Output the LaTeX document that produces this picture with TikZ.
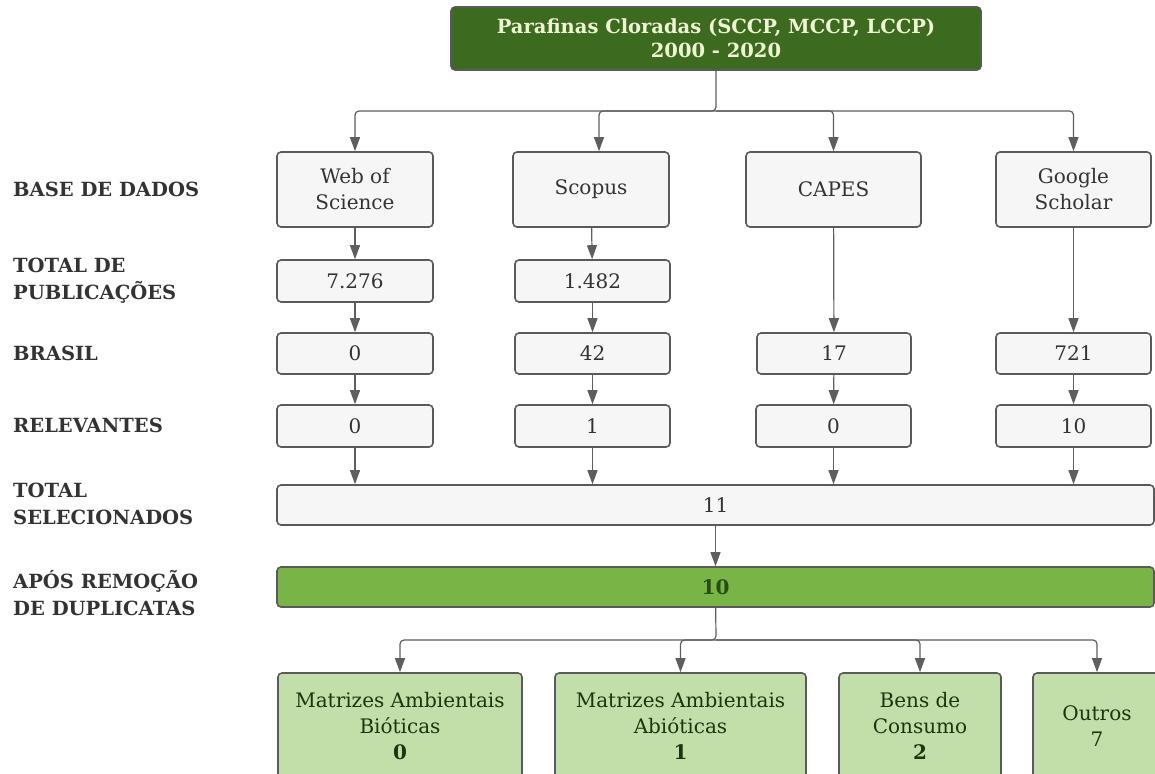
\documentclass[tikz,border=0pt]{standalone}
\usepackage{fontspec}
\setmainfont{DejaVu Serif}
\usetikzlibrary{arrows.meta}

\definecolor{boxfill}{HTML}{F6F6F6}
\definecolor{boxline}{HTML}{5A5A5A}
\definecolor{txtgray}{HTML}{333333}
\definecolor{linkgray}{HTML}{5E5E5E}
\definecolor{darkleaf}{HTML}{3C6A1F}
\definecolor{cream}{HTML}{EEF5D2}
\definecolor{midleaf}{HTML}{79B446}
\definecolor{deepleaf}{HTML}{274D12}
\definecolor{paleleaf}{HTML}{C3DFA9}

\begin{document}
\begin{tikzpicture}[x=1pt,y=-1pt,
  >={Triangle[length=14pt,width=10pt]},
  every node/.style={font=\fontsize{20}{26}\selectfont, align=center, inner sep=0pt},
  box/.style={draw=boxline, line width=1.6pt, fill=boxfill, rounded corners=4pt, text=txtgray},
  titlebox/.style={box, fill=darkleaf, text=cream, font=\fontsize{19.5}{24}\selectfont\bfseries},
  dupbox/.style={box, fill=midleaf, text=deepleaf, font=\fontsize{20}{26}\selectfont\bfseries},
  catbox/.style={box, fill=paleleaf, text=deepleaf!70!black, minimum height=106pt},
  lbl/.style={anchor=west, align=left, text=txtgray, font=\fontsize{19.5}{27}\selectfont\bfseries},
  link/.style={color=linkgray, line width=1.2pt, ->, rounded corners=4pt}]

\useasboundingbox (0,0) rectangle (1155,773);

% titulo
\node[titlebox, minimum width=530pt, minimum height=63pt] (title) at (716,38.5) {Parafinas Cloradas (SCCP, MCCP, LCCP)\\2000 - 2020};

% rotulos
\node[lbl] (lbase) at (13,189) {BASE DE DADOS};
\node[lbl] (ltotal) at (13,281) {TOTAL DE\\PUBLICAÇÕES};
\node[lbl] (lbrasil) at (13,353) {BRASIL};
\node[lbl] (lrel) at (13,425) {RELEVANTES};
\node[lbl] (lsel) at (13,504) {TOTAL\\SELECIONADOS};
\node[lbl] (ldup) at (13,593) {APÓS REMOÇÃO\\DE DUPLICATAS};

% bases de dados
\node[box, minimum width=156pt, minimum height=75pt] (wos) at (355,189.5) {Web of\\Science};
\node[box, minimum width=156pt, minimum height=75pt] (scopus) at (591,189.5) {Scopus};
\node[box, minimum width=175pt, minimum height=75pt] (capes) at (833.5,189.5) {CAPES};
\node[box, minimum width=155pt, minimum height=75pt] (google) at (1073.5,189.5) {Google\\Scholar};

% total de publicacoes
\node[box, minimum width=156pt, minimum height=42pt] (t1) at (355,281) {7.276};
\node[box, minimum width=155pt, minimum height=42pt] (t2) at (592.5,281) {1.482};

% brasil
\node[box, minimum width=156pt, minimum height=41pt] (b1) at (355,353.5) {0};
\node[box, minimum width=155pt, minimum height=41pt] (b2) at (592.5,353.5) {42};
\node[box, minimum width=154pt, minimum height=41pt] (b3) at (834,353.5) {17};
\node[box, minimum width=155pt, minimum height=41pt] (b4) at (1073.5,353.5) {721};

% relevantes
\node[box, minimum width=156pt, minimum height=42pt] (r1) at (355,426) {0};
\node[box, minimum width=155pt, minimum height=42pt] (r2) at (592.5,426) {1};
\node[box, minimum width=155pt, minimum height=42pt] (r3) at (833.5,426) {0};
\node[box, minimum width=155pt, minimum height=42pt] (r4) at (1073.5,426) {10};

% selecionados e duplicatas
\node[box, minimum width=877pt, minimum height=40pt] (sel) at (715.5,505) {11};
\node[dupbox, minimum width=877pt, minimum height=40pt] (dup) at (715.5,587) {10};

% categorias
\node[catbox, minimum width=244pt] (bio) at (400,726) {Matrizes Ambientais\\Bióticas\\\textbf{0}};
\node[catbox, minimum width=251pt] (abio) at (680.5,726) {Matrizes Ambientais\\Abióticas\\\textbf{1}};
\node[catbox, minimum width=162pt] (bens) at (920,726) {Bens de\\Consumo\\\textbf{2}};
\node[catbox, minimum width=128pt] (outros) at (1097,726) {Outros\\7};

\coordinate (split) at (716,111);
\coordinate (split2) at (716,640);

\draw[link] (title) -- (split) -| (wos);
\draw[link] (split) -| ([xshift=8pt]scopus.north);
\draw[link] (split) -| (capes);
\draw[link] (split) -| (google);

\path[link]
(wos) edge (t1)
(scopus) edge (t2)
(t1) edge (b1)
(t2) edge (b2)
(capes) edge (b3)
(google) edge (b4)
(b1) edge (r1)
(b2) edge (r2)
(b3) edge (r3)
(b4) edge (r4)
(r1) edge (r1 |- sel.north)
(r2) edge (r2 |- sel.north)
(r3) edge (r3 |- sel.north)
(r4) edge (r4 |- sel.north)
(sel) edge (dup);

\draw[link] (dup) -- (split2) -| (bio);
\draw[link] (split2) -| (abio);
\draw[link] (split2) -| (bens);
\draw[link] (split2) -| (outros);
\end{tikzpicture}
\end{document}
